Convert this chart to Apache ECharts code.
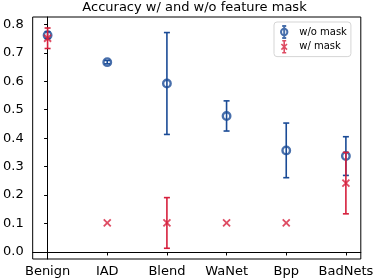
<!DOCTYPE html>
<html>
<head>
<meta charset="utf-8">
<script src="https://cdn.jsdelivr.net/npm/echarts@6/dist/echarts.min.js"></script>
<style>html,body{margin:0;padding:0;background:#fff;}#c{width:376px;height:280px;}</style>
</head>
<body>
<div id="c"></div>
<script>
const categories = ['Benign', 'IAD', 'Blend', 'WaNet', 'Bpp', 'BadNets'];
const woMaskMean = [0.762, 0.667, 0.592, 0.478, 0.357, 0.337];
const woMaskErr = [0.012, 0.006, 0.179, 0.053, 0.096, 0.068];
const wMaskMean = [0.751, 0.102, 0.102, 0.102, 0.102, 0.242];
const wMaskErr = [0.036, 0, 0.089, 0, 0, 0.108];
const yTicks = [0, 0.1, 0.2, 0.3, 0.4, 0.5, 0.6, 0.7, 0.8];
const xTicks = [0, 1, 2, 3, 4, 5];

const BLUE = '#1a4b96';
const RED = '#d61f3c';
const FONT = 'DejaVu Sans';

function errData(mean, err) {
  return mean.map((m, i) => [i, m - err[i], m + err[i]]);
}
function errRender(color) {
  return function (params, api) {
    const x = api.value(0), lo = api.value(1), hi = api.value(2);
    if (hi - lo <= 0) return null;
    const p1 = api.coord([x, lo]);
    const p2 = api.coord([x, hi]);
    const cw = 3;
    const st = { stroke: color, lineWidth: 1.6 };
    return {
      type: 'group',
      children: [
        { type: 'line', shape: { x1: p1[0], y1: p1[1], x2: p2[0], y2: p2[1] }, style: st },
        { type: 'line', shape: { x1: p1[0] - cw, y1: p1[1], x2: p1[0] + cw, y2: p1[1] }, style: st },
        { type: 'line', shape: { x1: p2[0] - cw, y1: p2[1], x2: p2[0] + cw, y2: p2[1] }, style: st }
      ]
    };
  };
}

const blueIcon = 'path://M5 0V12M3 0H7M3 12H7M1.8 6A3.2 3.2 0 1 1 8.2 6A3.2 3.2 0 1 1 1.8 6Z';
const redIcon = 'path://M5 0V12M3 0H7M3 12H7M2.2 3.2L7.8 8.8M7.8 3.2L2.2 8.8';

const chart = echarts.init(document.getElementById('c'), null, { renderer: 'canvas' });
chart.setOption({
  animation: false,
  textStyle: { fontFamily: FONT },
  title: {
    text: 'Accuracy w/ and w/o feature mask',
    left: 194.5, textAlign: 'center', top: 1, padding: 0,
    textStyle: { fontFamily: FONT, fontSize: 13, fontWeight: 'normal', color: '#000' }
  },
  legend: {
    orient: 'vertical',
    left: 274, top: 22,
    padding: [3, 4, 3, 6],
    itemWidth: 20, itemHeight: 12, itemGap: 1,
    backgroundColor: '#fff',
    borderColor: '#d5d5d5', borderWidth: 1, borderRadius: 3,
    textStyle: { fontFamily: FONT, fontSize: 10, color: '#000' },
    data: [
      { name: 'w/o mask', icon: blueIcon, itemStyle: { color: 'transparent', borderColor: BLUE, borderWidth: 2 } },
      { name: 'w/ mask', icon: redIcon, itemStyle: { color: 'transparent', borderColor: RED, borderWidth: 1.6 } }
    ]
  },
  grid: { left: 27, right: 14, top: 17, bottom: 21, show: true, borderColor: '#000', borderWidth: 1, backgroundColor: 'transparent' },
  xAxis: {
    type: 'value', min: -0.25, max: 5.25,
    splitLine: { show: false },
    axisLine: { show: true, lineStyle: { color: '#000', width: 1 } },
    axisTick: { show: true, customValues: xTicks, length: 3.5, lineStyle: { color: '#000' } },
    axisLabel: { customValues: xTicks, formatter: v => categories[Math.round(v)], color: '#000', fontSize: 13, fontFamily: FONT, margin: 6 }
  },
  yAxis: {
    type: 'value', min: -0.0247, max: 0.8257,
    splitLine: { show: false },
    axisLine: { show: true, lineStyle: { color: '#000', width: 1 } },
    axisTick: { show: true, customValues: yTicks, length: 3.5, lineStyle: { color: '#000' } },
    axisLabel: { customValues: yTicks, formatter: v => v.toFixed(1), color: '#000', fontSize: 13, fontFamily: FONT, margin: 9 }
  },
  series: [
    {
      name: 'w/o mask err', type: 'custom', renderItem: errRender(BLUE),
      data: errData(woMaskMean, woMaskErr), z: 2, silent: true
    },
    {
      name: 'w/o mask', type: 'scatter', symbol: 'circle', symbolSize: 7.5,
      itemStyle: { color: 'transparent', borderColor: BLUE, borderWidth: 2.4 },
      data: woMaskMean.map((m, i) => [i, m]), z: 3
    },
    {
      name: 'w/ mask err', type: 'custom', renderItem: errRender(RED),
      data: errData(wMaskMean, wMaskErr), z: 4, silent: true
    },
    {
      name: 'w/ mask', type: 'scatter', symbol: 'path://M0 0L10 10M10 0L0 10', symbolSize: 7,
      itemStyle: { color: 'transparent', borderColor: RED, borderWidth: 1.8 },
      data: wMaskMean.map((m, i) => [i, m]), z: 5
    }
  ]
});
</script>
</body>
</html>
